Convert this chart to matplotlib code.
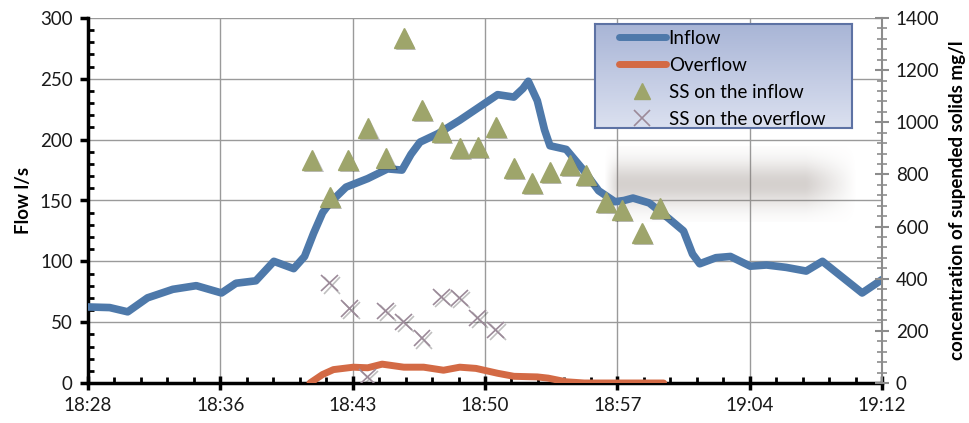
import numpy as np
import matplotlib
matplotlib.use("Agg")
import matplotlib.pyplot as plt
import matplotlib.patheffects as pe
from matplotlib.lines import Line2D
from matplotlib.ticker import MultipleLocator, FixedLocator

plt.rcParams['font.family'] = ['Lato', 'DejaVu Sans']

# minutes after 18:28
inflow_t = [0.0, 1.2, 2.2, 3.3, 4.7, 6.0, 7.4, 8.2, 9.3, 10.3, 11.4, 12.0, 12.5,
            13.0, 13.4, 14.3, 15.5, 16.6, 17.4, 17.9, 18.4, 19.4, 20.6, 21.7,
            22.7, 23.6, 24.1, 24.4, 24.9, 25.3, 25.6, 26.5, 27.4, 28.3, 29.2,
            29.7, 30.2, 31.1, 32.2, 33.0, 33.5, 33.9, 34.8, 35.6, 36.7, 37.6,
            38.7, 39.8, 40.7, 41.8, 42.9, 44.0]
inflow_q = [62.5, 62, 58.5, 70, 77, 80, 74, 82, 84, 100, 94, 104, 123,
            140, 148, 161, 168, 176, 175, 188, 198, 205, 216, 227,
            237, 235, 242, 248, 232, 208, 195, 192, 176, 158, 149,
            150, 152, 148, 135, 125, 106, 98, 103, 104, 96, 97,
            95, 92, 100, 87, 74, 85]

overflow_t = [12.3, 13.0, 13.6, 14.7, 15.5, 16.3, 17.5, 18.6, 19.7, 20.6, 21.5,
              22.7, 23.6, 24.9, 25.5, 26.5, 27.5, 31.9]
overflow_q = [0, 7, 11, 13, 12.5, 15.5, 13, 13, 10.5, 13, 12,
              8, 5.5, 5, 4, 1, 0, 0]

ss_in_t = [12.4, 13.4, 14.4, 15.5, 16.5, 17.5, 18.5, 19.6, 20.6, 21.6, 22.6,
           23.6, 24.6, 25.6, 26.7, 27.6, 28.7, 29.6, 30.7, 31.7]
ss_in_c = [855, 713, 855, 978, 863, 1323, 1047, 963, 901, 905, 982,
           825, 767, 809, 836, 798, 694, 664, 575, 671]

ss_out_t = [13.4, 14.5, 15.5, 16.5, 17.5, 18.5, 19.6, 20.6, 21.6, 22.6]
ss_out_c = [383, 287, 23, 276, 234, 172, 330, 326, 249, 203]

tick_labels = ['18:28', '18:36', '18:43', '18:50', '18:57', '19:04', '19:12']

c_in = '#4E79AA'
c_over = '#D36A45'
c_tri = '#9EA56B'
c_x = '#9C8A99'
fs = 13.5

fig = plt.figure(figsize=(9.69, 4.23), dpi=100)
ax = fig.add_axes([88/969, 1-383/423, (882-88)/969, (383-18)/423])
ax2 = ax.twinx()

ax.plot(inflow_t, inflow_q, color=c_in, lw=5.5, solid_joinstyle='round',
        solid_capstyle='round', zorder=3)
ax.plot(overflow_t, overflow_q, color=c_over, lw=5, solid_joinstyle='round',
        solid_capstyle='round', zorder=3)

shadow = [pe.SimplePatchShadow(offset=(1.5, -1.5), shadow_rgbFace='k', alpha=0.25), pe.Normal()]
ax2.plot(ss_in_t, ss_in_c, ls='none', marker='^', ms=14, color=c_tri,
         mec=c_tri, path_effects=shadow)
ax2.plot(ss_out_t, ss_out_c, ls='none', marker='x', ms=12, mew=1.2, color=c_x,
         path_effects=[pe.SimpleLineShadow(offset=(1.5, -1.5), alpha=0.25), pe.Normal()])

# blurred grey streak in the scan
xs = np.linspace(0, 1, 200)
ys = np.linspace(0, 1, 60)
ax_prof = np.clip(xs / 0.06, 0, 1) * np.clip((1 - xs) / 0.2, 0, 1)
ay_prof = np.exp(-((ys - 0.5) / 0.3) ** 2)
band = np.zeros((60, 200, 4))
band[..., 0] = 0.52
band[..., 1] = 0.47
band[..., 2] = 0.44
band[..., 3] = 0.34 * ay_prof[:, None] * ax_prof[None, :]
ax.imshow(band, extent=[28.6, 42.6, 132, 194], aspect='auto', zorder=1.5,
          interpolation='bilinear')

ax.set_xlim(0, 44)
ax.set_ylim(0, 300)
ax2.set_ylim(0, 1400)

ax.xaxis.set_major_locator(FixedLocator(np.linspace(0, 44, 7)))
ax.set_xticklabels(tick_labels)
ax.xaxis.set_minor_locator(FixedLocator(np.linspace(0, 44, 31)))
ax.yaxis.set_major_locator(MultipleLocator(50))
ax.yaxis.set_minor_locator(MultipleLocator(10))
ax2.yaxis.set_major_locator(MultipleLocator(200))
ax2.yaxis.set_minor_locator(MultipleLocator(40))

ax.set_axisbelow(True)
ax.grid(True, which='major', color='#9A9A9A', lw=1)

for s in ['top', 'right']:
    ax.spines[s].set_visible(False)
for s in ['top', 'left', 'bottom']:
    ax2.spines[s].set_visible(False)
ax.spines['left'].set_linewidth(2.5)
ax.spines['bottom'].set_linewidth(2.5)
ax.spines['left'].set_color('black')
ax.spines['bottom'].set_color('black')
ax2.spines['right'].set_color('#8C8C8C')
ax2.spines['right'].set_linewidth(1.5)

ax.tick_params(axis='y', which='major', direction='out', length=6, width=2.5,
               labelsize=fs, pad=5, labelcolor='#1A1A1A')
ax.tick_params(axis='y', which='minor', direction='in', length=4, width=2)
ax.tick_params(axis='x', which='major', direction='inout', length=10, width=2.5,
               labelsize=fs, pad=5, labelcolor='#1A1A1A')
ax.tick_params(axis='x', which='minor', direction='in', length=4, width=2)
ax2.tick_params(axis='y', which='major', direction='inout', length=10, width=1.5,
                color='#8C8C8C', labelsize=fs, pad=5, labelcolor='#1A1A1A')
ax2.tick_params(axis='y', which='minor', direction='inout', length=7, width=1.2,
                color='#8C8C8C')

ax.set_ylabel('Flow l/s', fontsize=fs, fontweight='bold', labelpad=6)
ax2.set_ylabel('concentration of supended solids mg/l', fontsize=fs,
               fontweight='bold', labelpad=7)

# legend box with gradient fill
lax = fig.add_axes([595/969, 1-128/423, 257/969, 104/423])
grad = np.linspace(0, 1, 100)[:, None]
top = np.array([0.66, 0.71, 0.84])
bot = np.array([0.86, 0.88, 0.94])
img = top[None, None, :] * (1 - grad[..., None]) + bot[None, None, :] * grad[..., None]
lax.imshow(img, extent=[0, 1, 0, 1], aspect='auto')
lax.set_xticks([])
lax.set_yticks([])
for s in lax.spines.values():
    s.set_color('#5D72A4')
    s.set_linewidth(1.5)

handles = [
    Line2D([], [], color=c_in, lw=5, solid_capstyle='round'),
    Line2D([], [], color=c_over, lw=5, solid_capstyle='round'),
    Line2D([], [], ls='none', marker='^', ms=12, color=c_tri),
    Line2D([], [], ls='none', marker='x', ms=12, mew=1.2, color=c_x),
]
labels = ['Inflow', 'Overflow', 'SS on the inflow', 'SS on the overflow']
fig.legend(handles, labels, loc='upper left', bbox_to_anchor=(619/969, 1-30/423),
           frameon=False, fontsize=fs, handlelength=2.5, handletextpad=0.15,
           borderpad=0, borderaxespad=0, labelspacing=0.53)

fig.savefig('out.png', dpi=100)
